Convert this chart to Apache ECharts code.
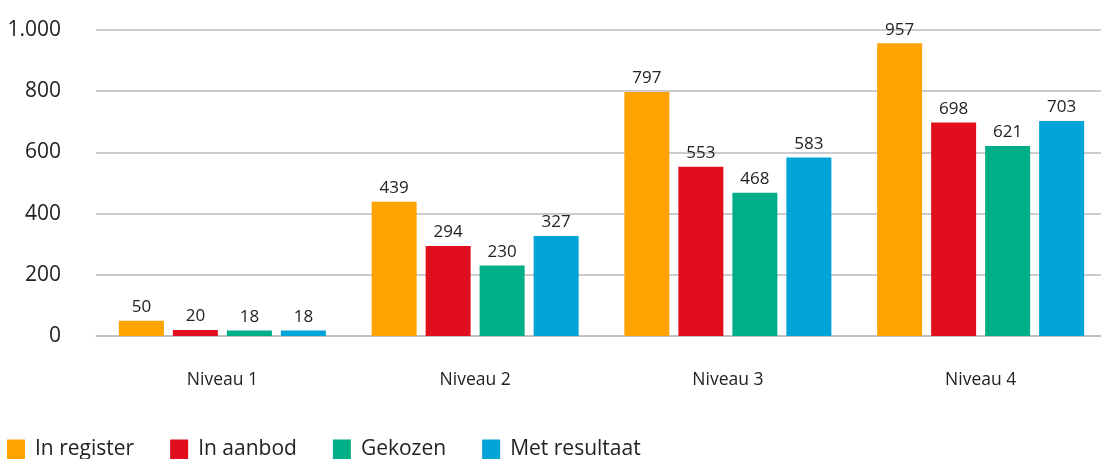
<!DOCTYPE html>
<html>
<head>
<meta charset="utf-8">
<script src="https://cdn.jsdelivr.net/npm/echarts@6/dist/echarts.min.js"></script>
<style>
    html,body{margin:0;padding:0;background:#fff;}
    #main{width:1101px;height:459px;}
</style>
</head>
<body>
<div id="main"></div>
<script>
    // data
    var categories = ['Niveau 1', 'Niveau 2', 'Niveau 3', 'Niveau 4'];
    var seriesNames = ['In register', 'In aanbod', 'Gekozen', 'Met resultaat'];
    var inRegister = [50, 439, 797, 957];
    var inAanbod = [20, 294, 553, 698];
    var gekozen = [18, 230, 468, 621];
    var metResultaat = [18, 327, 583, 703];
    var yTicks = [0, 200, 400, 600, 800, 1000];

    var colors = ['#FFA300', '#E10E1E', '#00AE87', '#00A4D6'];
    var font = '"Open Sans", "Noto Sans", sans-serif';

    // 1000 -> 1.000
    function nl(v){
        return String(v).replace(/\B(?=(\d{3})+(?!\d))/g, '.');
    }

    var allData = [inRegister, inAanbod, gekozen, metResultaat];
    var series = [];
    for (var i = 0; i < seriesNames.length; i++) {
        series.push({
            name: seriesNames[i],
            type: 'bar',
            barWidth: 45,
            barGap: '20%',
            itemStyle: {color: colors[i]},
            label: {
                show: true,
                position: 'top',
                distance: 5,
                color: '#222',
                fontFamily: font,
                fontSize: 17,
                formatter: function(p){ return nl(p.value); }
            },
            data: allData[i]
        });
    }

    var myChart = echarts.init(document.getElementById('main'));
    var option = {
        animation: false,
        textStyle: {fontFamily: font},
        legend: {
            left: 7,
            top: 439,
            padding: 0,
            itemWidth: 18,
            itemHeight: 20,
            itemGap: 36,
            icon: 'rect',
            textStyle: {fontSize: 21, color: '#222', fontFamily: font, padding: [0, 0, 0, 5]},
            data: seriesNames
        },
        grid: {
            left: 96,
            width: 1011,
            top: 30,
            bottom: 123,
            containLabel: false,
            outerBoundsMode: 'none'
        },
        xAxis: {
            type: 'category',
            data: categories,
            axisTick: {show: false},
            axisLine: {lineStyle: {color: '#bbb', width: 1.5}},
            axisLabel: {color: '#222', fontSize: 17.5, margin: 35, fontFamily: font}
        },
        yAxis: {
            type: 'value',
            min: yTicks[0],
            max: yTicks[yTicks.length - 1],
            interval: 200,
            axisLine: {show: false},
            axisTick: {show: false},
            splitLine: {lineStyle: {color: '#bbb', width: 1.5}},
            axisLabel: {
                color: '#222',
                fontSize: 21,
                margin: 35,
                fontFamily: font,
                formatter: function(v){ return nl(v); }
            }
        },
        series: series
    };
    myChart.setOption(option);
</script>
</body>
</html>
